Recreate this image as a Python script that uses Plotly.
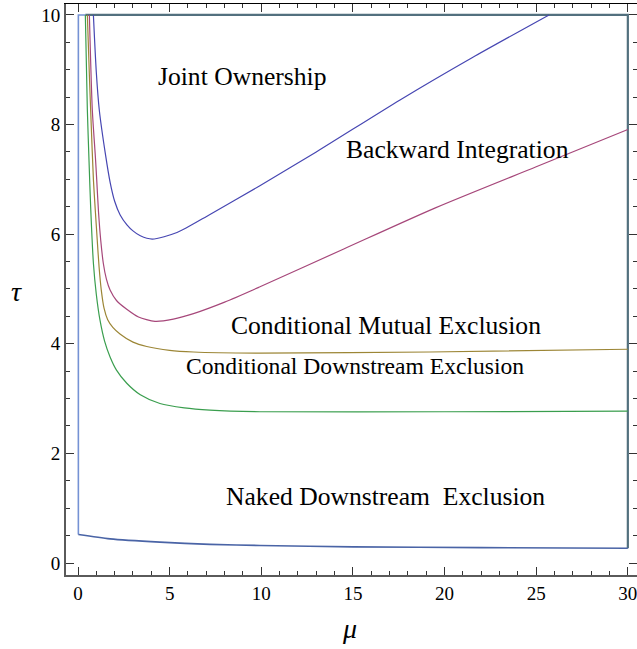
import plotly.graph_objects as go

# ---- data ----
mu_joint = [0.84, 1.0, 1.16, 1.5, 1.75, 2.0, 2.3, 2.67, 3.0, 3.4, 4.05, 5.4, 7.2, 9.9, 13.0, 17.57, 21.5, 25.7]
tau_joint = [10.0, 8.95, 8.27, 7.45, 6.95, 6.6, 6.35, 6.17, 6.06, 5.97, 5.91, 6.03, 6.36, 6.88, 7.5, 8.45, 9.22, 10.0]

mu_back = [0.62, 0.78, 0.95, 1.02, 1.12, 1.24, 1.38, 1.55, 1.75, 2.1, 2.66, 3.3, 4.2, 5.2, 6.3, 8.0, 9.93, 14.5, 19.5, 25.0, 30.0]
tau_back = [10.0, 8.27, 7.4, 7.0, 6.4, 5.89, 5.47, 5.18, 4.98, 4.79, 4.63, 4.49, 4.41, 4.45, 4.55, 4.76, 5.04, 5.73, 6.48, 7.23, 7.91]

mu_mutual = [0.51, 0.62, 0.72, 0.84, 0.95, 1.05, 1.15, 1.27, 1.42, 1.62, 1.9, 2.29, 3.0, 3.75, 5.0, 6.3, 9.9, 19.2, 30.0]
tau_mutual = [10.0, 8.9, 8.0, 7.0, 6.4, 5.89, 5.4, 4.98, 4.65, 4.44, 4.3, 4.18, 4.03, 3.95, 3.88, 3.85, 3.83, 3.85, 3.9]

mu_down = [0.40, 0.51, 0.60, 0.69, 0.84, 1.0, 1.2, 1.45, 1.75, 2.1, 2.66, 3.4, 4.47, 5.8, 7.2, 9.93, 20.0, 30.0]
tau_down = [10.0, 8.27, 7.35, 6.5, 5.47, 4.9, 4.43, 4.05, 3.76, 3.52, 3.28, 3.07, 2.91, 2.83, 2.79, 2.76, 2.76, 2.77]

mu_naked = [0.02, 1.75, 4.47, 7.2, 9.93, 15.0, 22.0, 30.0]
tau_naked = [0.52, 0.44, 0.38, 0.34, 0.32, 0.295, 0.28, 0.27]

mu_left_edge = [0.02, 0.02, 0.4]
tau_left_edge = [0.52, 10.0, 10.0]
mu_top_right_edge = [0.4, 30.0, 30.0]
tau_top_right_edge = [10.0, 10.0, 0.27]

region_labels = ["Joint Ownership", "Backward Integration", "Conditional Mutual Exclusion",
                 "Conditional Downstream Exclusion", "Naked Downstream  Exclusion"]
label_mu = [8.95, 20.7, 16.8, 15.1, 16.8]
label_tau = [8.87, 7.55, 4.34, 3.6, 1.22]

x_ticks = [0, 5, 10, 15, 20, 25, 30]
y_ticks = [0, 2, 4, 6, 8, 10]

SERIF = "Liberation Serif, Times New Roman, serif"

fig = go.Figure()

def add_line(x, y, color, width, shape="spline"):
    fig.add_trace(go.Scatter(x=x, y=y, mode="lines", line=dict(color=color, width=width, shape=shape, smoothing=0.7),
                             hoverinfo="skip", showlegend=False))

add_line(mu_left_edge, tau_left_edge, "#7592d4", 1.6, "linear")
add_line(mu_top_right_edge, tau_top_right_edge, "#52707e", 2.2, "linear")
add_line(mu_naked, tau_naked, "#4a64a6", 1.6)
add_line(mu_down, tau_down, "#3a9e4e", 1.2)
add_line(mu_mutual, tau_mutual, "#9c8636", 1.2)
add_line(mu_back, tau_back, "#a6477a", 1.2)
add_line(mu_joint, tau_joint, "#4646b2", 1.2)

label_sizes = [25.6, 25.6, 25.6, 23.6, 25.6]
for txt, xm, ym, sz in zip(region_labels, label_mu, label_tau, label_sizes):
    fig.add_annotation(x=xm, y=ym, text=txt, showarrow=False, xref="x", yref="y",
                       font=dict(family=SERIF, size=sz, color="black"))

fig.add_annotation(xref="paper", yref="paper", x=-0.1, y=0.496, text="<i>τ</i>", showarrow=False,
                   font=dict(family=SERIF, size=28, color="black"))
fig.add_annotation(xref="paper", yref="paper", x=0.497, y=-0.125, text="<i>μ</i>", showarrow=False,
                   font=dict(family=SERIF, size=28, color="black"))

xr = [-0.655, 30.5]
yr = [-0.219, 10.2]

common_minor_x = dict(ticks="inside", ticklen=4, tickcolor="#333", dtick=1, tick0=0, showgrid=False)
common_minor_y = dict(ticks="inside", ticklen=4, tickcolor="#333", dtick=0.5, tick0=0, showgrid=False)

fig.update_layout(
    width=637, height=649,
    margin=dict(l=66, r=0, t=4, b=74),
    paper_bgcolor="white", plot_bgcolor="white",
    showlegend=False,
    xaxis=dict(range=xr, tickvals=x_ticks, ticktext=[str(v) for v in x_ticks],
               ticks="inside", ticklen=8, tickcolor="#333", tickwidth=1,
               showline=True, linecolor="#5a5a5a", linewidth=2, mirror=False,
               showgrid=False, zeroline=False, ticklabeloverflow="allow",
               tickfont=dict(family=SERIF, size=19, color="black"),
               minor=common_minor_x),
    yaxis=dict(range=yr, tickvals=y_ticks, ticktext=[str(v) for v in y_ticks],
               ticks="inside", ticklen=8, tickcolor="#333", tickwidth=1,
               showline=True, linecolor="#5a5a5a", linewidth=2, mirror=False,
               showgrid=False, zeroline=False, ticklabeloverflow="allow",
               tickfont=dict(family=SERIF, size=19, color="black"),
               minor=common_minor_y),
    xaxis2=dict(range=xr, overlaying="x", side="top", tickvals=x_ticks, showticklabels=False,
                ticks="inside", ticklen=8, tickcolor="#333", tickwidth=1,
                showline=True, linecolor="black", linewidth=1.2,
                showgrid=False, zeroline=False, minor=common_minor_x),
    yaxis2=dict(range=yr, overlaying="y", side="right", tickvals=y_ticks, showticklabels=False,
                ticks="inside", ticklen=8, tickcolor="#333", tickwidth=1,
                showline=False, showgrid=False, zeroline=False, minor=common_minor_y),
)
# invisible trace to activate the mirrored axes
fig.add_trace(go.Scatter(x=[None], y=[None], xaxis="x2", yaxis="y2", showlegend=False, hoverinfo="skip"))

fig.write_html("out.html", config={"displayModeBar": False},
               post_script="document.body.style.margin='0';document.body.style.overflow='hidden';")
